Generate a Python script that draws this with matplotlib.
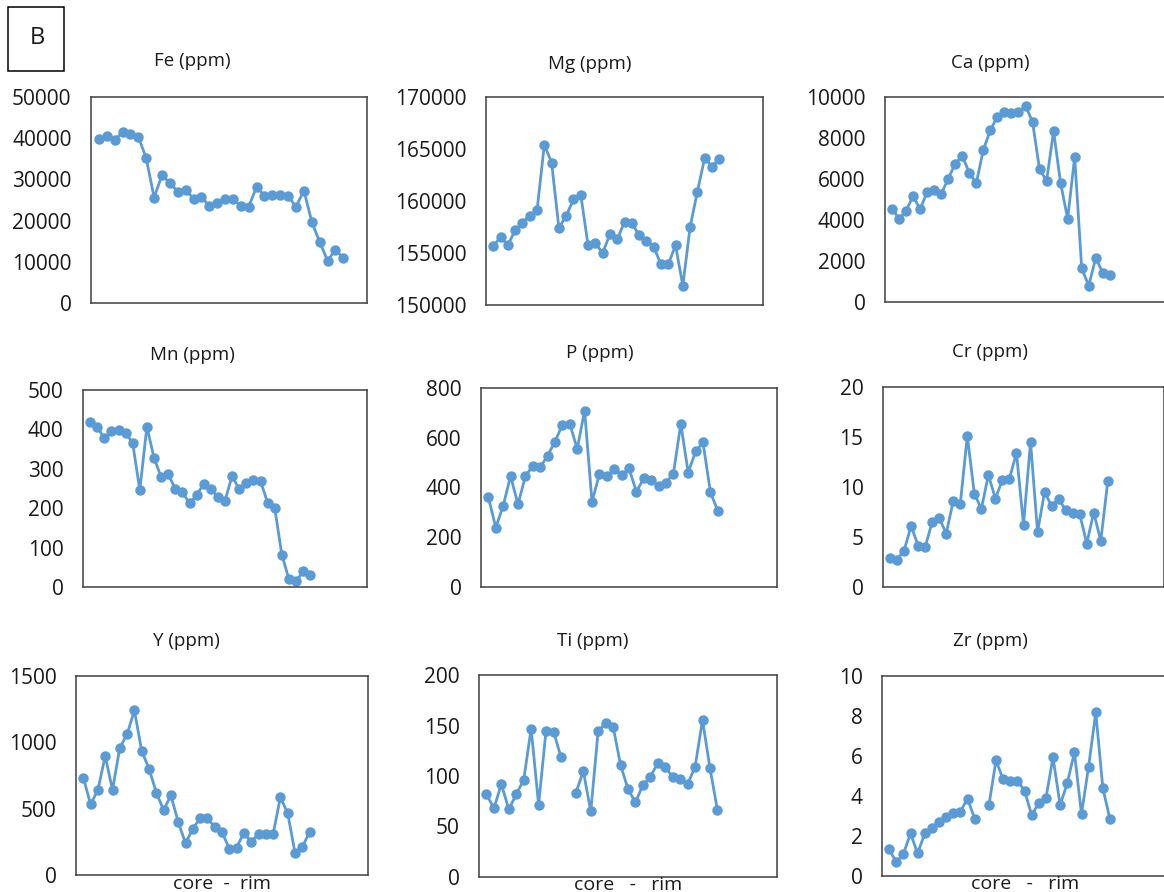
import matplotlib
matplotlib.use("Agg")
import matplotlib.pyplot as plt
import numpy as np

plt.rcParams['font.family'] = ['Open Sans', 'DejaVu Sans']

nan = np.nan

fe = [39700, 40500, 39500, 41500, 41000, 40300, 35200, 25600, 31000, 29200,
      27000, 27500, 25300, 25700, 23600, 24200, 25200, 25200, 23600, 23400,
      28200, 26000, 26200, 26200, 25900, 23400, 27300, 19700, 14800, 10300,
      12900, 10900]
mg = [155700, 156500, 155750, 157200, 157900, 158600, 159100, 165400, 163700, 157400,
      158600, 160150, 160600, 155750, 155950, 155000, 156800, 156300, 158000, 157900,
      156700, 156200, 155600, 153900, 153900, 155750, 151850, 157500, 160900, 164150,
      163300, 164050]
ca = [4550, 4060, 4460, 5160, 4530, 5360, 5460, 5260, 6020, 6750,
      7130, 6300, 5800, 7430, 8380, 9040, 9270, 9240, 9270, 9570,
      8790, 6470, 5920, 8330, 5790, 4060, 7080, 1640, 800, 2160,
      1410, 1310]
mn = [419, 407, 377, 396, 398, 392, 365, 246, 407, 328,
      279, 286, 249, 241, 212, 233, 262, 248, 229, 219,
      282, 248, 263, 272, 269, 214, 201, 82, 20, 14,
      40, 30]
p = [360, 239, 327, 446, 332, 446, 487, 481, 528, 584,
     652, 656, 555, 709, 342, 454, 446, 473, 450, 477,
     383, 437, 430, 407, 419, 456, 656, 460, 545, 581,
     382, 305]
cr = [2.9, 2.75, 3.65, 6.1, 4.15, 4.0, 6.5, 6.9, 5.35, 8.6,
      8.3, 15.1, 9.35, 7.8, 11.2, 8.85, 10.7, 10.85, 13.4, 6.2,
      14.5, 5.5, 9.5, 8.1, 8.8, 7.7, 7.45, 7.3, 4.35, 7.45,
      4.6, 10.6]
y_ppm = [734, 533, 641, 897, 641, 960, 1060, 1241, 935, 802,
         621, 490, 600, 400, 239, 349, 427, 427, 362, 324,
         198, 206, 319, 251, 307, 307, 307, 588, 465, 168,
         211, 324]
ti = [82, 68, 92, 67, 82, 96, 147, 71.5, 145, 144,
      119, nan, 83, 105, 65, 145, 152, 149, 111, 87,
      74, 91, 99, 113, 109, 99, 97, 92, 109, 155.5,
      108, 66.5]
zr = [1.35, 0.68, 1.1, 2.13, 1.13, 2.13, 2.42, 2.72, 2.97, 3.17,
      3.22, 3.87, 2.87, nan, 3.53, 5.78, 4.83, 4.77, 4.77, 4.27,
      3.05, 3.63, 3.88, 5.93, 3.55, 4.63, 6.18, 3.1, 5.47, 8.18,
      4.38, 2.83]

W, H = 1164, 892
fig = plt.figure(figsize=(W / 100, H / 100), dpi=100)
blue = '#5B9BD5'
ink = '#1a1a1a'

# name, data, y min/max/step, xmax, box (left, top, right, bottom) px, title x/y px
panels = [
    ('Fe (ppm)', fe, 0, 50000, 10000, 35, (91, 97, 367, 303), 192, 61),
    ('Mg (ppm)', mg, 150000, 170000, 5000, 38, (486, 97, 763, 305), 590, 64),
    ('Ca (ppm)', ca, 0, 10000, 2000, 40, (885, 97, 1166, 302), 990, 63),
    ('Mn (ppm)', mn, 0, 500, 100, 40, (83, 390, 367, 587), 192, 355),
    ('P (ppm)', p, 0, 800, 200, 40, (481, 388, 777, 587), 600, 353),
    ('Cr (ppm)', cr, 0, 20, 5, 40, (883, 387, 1164, 587), 990, 352),
    ('Y (ppm)', y_ppm, 0, 1500, 500, 40, (76, 676, 368, 875), 186, 641),
    ('Ti (ppm)', ti, 0, 200, 50, 40, (479, 675, 777, 877), 593, 641),
    ('Zr (ppm)', zr, 0, 10, 2, 40, (882, 676, 1167, 876), 990, 641),
]

for name, vals, lo, hi, step, xmax, box, tx, ty in panels:
    l, t, r, b = box
    ax = fig.add_axes([l / W, 1 - b / H, (r - l) / W, (b - t) / H])
    x = np.arange(1, len(vals) + 1)
    ax.plot(x, vals, color=blue, lw=2.0, marker='o', ms=6.5, mec=blue, mfc=blue)
    ax.set_xlim(0, xmax)
    ax.set_ylim(lo, hi)
    ax.set_yticks(np.arange(lo, hi + step / 2, step))
    ax.set_xticks([])
    ax.tick_params(axis='y', length=0, pad=14, labelsize=15, labelcolor=ink)
    for s in ax.spines.values():
        s.set_color('#404040')
        s.set_linewidth(1.1)
    fig.text(tx / W, 1 - ty / H, name, ha='center', va='center', fontsize=13.5, color=ink)

fig.text(222 / W, 1 - 884 / H, 'core  -  rim', ha='center', va='center', fontsize=14, color=ink)
fig.text(628 / W, 1 - 885 / H, 'core   -   rim', ha='center', va='center', fontsize=14, color=ink)
fig.text(1025 / W, 1 - 884 / H, 'core   -   rim', ha='center', va='center', fontsize=14, color=ink)

# "B" label box
fig.patches.append(plt.Rectangle((8 / W, 1 - 71 / H), 56 / W, 64 / H, transform=fig.transFigure,
                                 fill=False, edgecolor='black', lw=1.1))
fig.text(37 / W, 1 - 38 / H, 'B', ha='center', va='center', fontsize=17, color=ink)

fig.savefig('out.png', dpi=100)
